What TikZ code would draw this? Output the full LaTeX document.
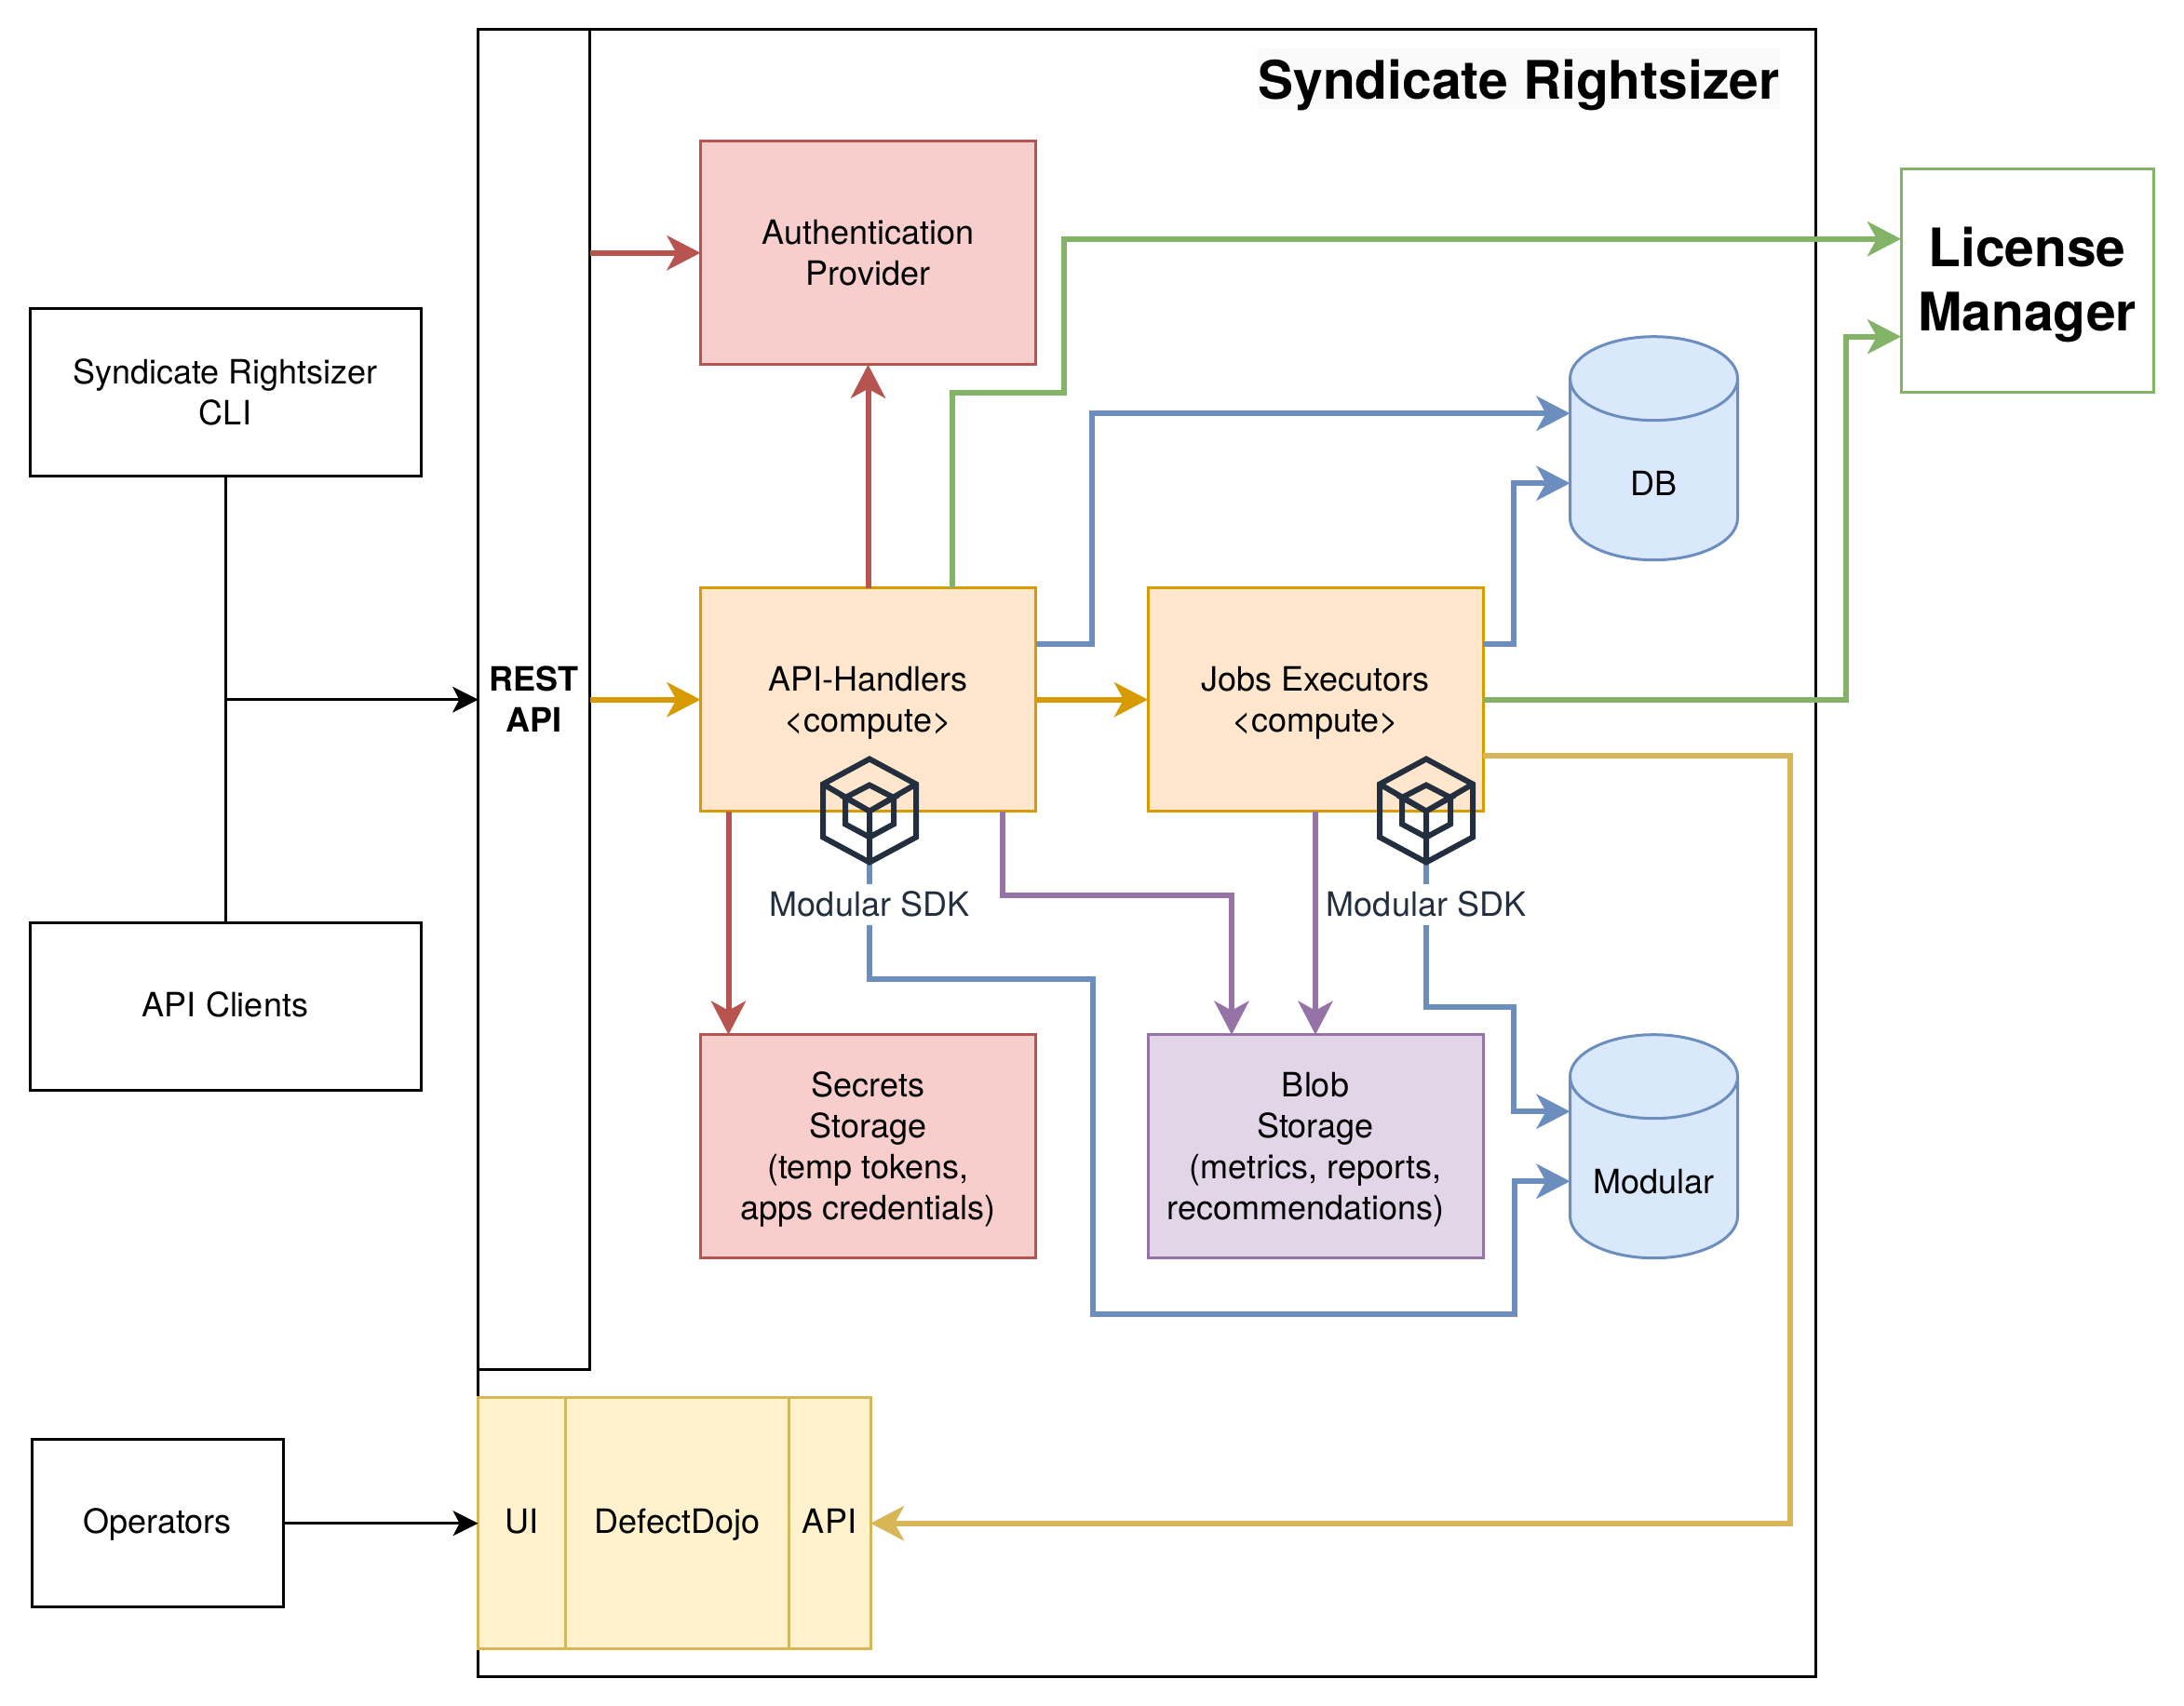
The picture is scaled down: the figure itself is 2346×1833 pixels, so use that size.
\documentclass[tikz,border=0pt]{standalone}
\usepackage{fontspec}
\setmainfont{TeX Gyre Heros}
\usetikzlibrary{arrows.meta}

\definecolor{orangefill}{HTML}{FFE6CC}
\definecolor{orangeline}{HTML}{D79B00}
\definecolor{redfill}{HTML}{F8CECC}
\definecolor{redline}{HTML}{B85450}
\definecolor{greenline}{HTML}{82B366}
\definecolor{bluefill}{HTML}{DAE8FC}
\definecolor{blueline}{HTML}{6C8EBF}
\definecolor{purplefill}{HTML}{E1D5E7}
\definecolor{purpleline}{HTML}{9673A6}
\definecolor{yellowfill}{HTML}{FFF2CC}
\definecolor{yellowline}{HTML}{D6B656}
\definecolor{sdkdark}{HTML}{232F3E}
\definecolor{titleback}{HTML}{FAFAFA}

\tikzset{
    twolines/.style = {text height = 80pt},
    fourlines/.style = {text height = 168pt},
    box/.style 2 args = {rectangle, draw, line width = 3pt, minimum width = #1pt, minimum height = #2pt},
    store/.style = {rectangle, minimum width = 180pt, minimum height = 240pt},
    link/.style = {line width = 3pt, -{Stealth[length = 27pt, width = 27pt, inset = 7pt]}},
    flow/.style = {line width = 6pt, -{Stealth[length = 36pt, width = 37pt, inset = 10pt]}},
    bold title/.style = {font = \fontsize{57}{69}\selectfont\bfseries},
    sdkicon/.pic = {
        \draw[sdkdark, line width = 6pt, line join = miter]
            (0,0) -- (50,27) -- (50,84) -- (0,111) -- (-50,84) -- (-50,27) -- cycle
            (-50,27) -- (0,56) -- (50,27)
            (0,56) -- (0,111)
            (0,28) -- (26,41.5) -- (0,56) -- (-26,41.5) -- cycle
            (-26,41.5) -- (-26,70) -- (0,84) -- (26,70) -- (26,41.5);
    },
    sdklabel/.style = {fill = white, text = sdkdark, text height = 35pt, text depth = 9pt}
}

\begin{document}
\begin{tikzpicture}
    [x = 1pt, y = -1pt, every node/.style = {inner sep = 0pt, outer sep = 0pt, align = center,
        font = \fontsize{36}{44}\selectfont, text height = 33pt, text depth = 11pt}]
    \useasboundingbox[fill = white] (0,0) rectangle (2346,1833);

    \node[box = {1437}{1770}] (rightsizer) at (1232,916.7) {};
    \node[box = {120}{1440}, twolines, font = \fontsize{36}{44}\selectfont\bfseries] (rest) at (573.5,751.7) {REST\\API};
    \node[fill = titleback, minimum width = 557pt, bold title, text height = 54.5pt, text depth = 10.5pt] (title) at (1631.5,84.2) {Syndicate Rightsizer};

    \node[box = {360}{240}, twolines, draw = redline, fill = redfill] (auth) at (932.5,271.7) {Authentication\\Provider};
    \node[box = {360}{240}, twolines, draw = orangeline, fill = orangefill] (handlers) at (932.5,751.7) {API-Handlers\\<compute>};
    \node[box = {360}{240}, twolines, draw = orangeline, fill = orangefill] (jobs) at (1413,751.7) {Jobs Executors\\<compute>};
    \node[box = {360}{240}, fourlines, draw = redline, fill = redfill] (secrets) at (932.5,1231.7) {Secrets\\Storage\\(temp tokens,\\apps credentials)};
    \node[box = {360}{240}, fourlines, draw = purpleline, fill = purplefill] (blob) at (1413,1231.7) {Blob\\Storage\\(metrics, reports,\hspace*{12pt}\\recommendations)\hspace*{21pt}};
    \node[store] (db) at (1776.5,481.7) {};
    \node[store] (modular) at (1776.5,1231.7) {};
    \node[box = {271}{240}, draw = greenline, bold title, text height = 124.3pt, text depth = 16.7pt] (license) at (2177.5,301.7) {License\\Manager};

    \foreach \store/ \caption in {db/DB,modular/Modular} {
      \draw[draw = blueline, fill = bluefill, line width = 3pt]
        ([yshift = -45pt]\store.north west) arc[start angle = 180, end angle = 0, x radius = 90pt, y radius = 45pt]
        -- ([yshift = 45pt]\store.south east) arc[start angle = 360, end angle = 180, x radius = 90pt, y radius = 45pt]
        -- cycle;
      \draw[draw = blueline, line width = 3pt]
        ([yshift = -45pt]\store.north west) arc[start angle = 180, end angle = 360, x radius = 90pt, y radius = 45pt];
      \node (\store text) at ([yshift = -39.5pt]\store.center) {\caption};
    }

    \node[box = {420}{180}, twolines] (cli) at (242,421.7) {Syndicate Rightsizer\\CLI};
    \node[box = {420}{180}] (clients) at (242,1081.7) {API Clients};
    \node[box = {270}{180}] (operators) at (169,1636.7) {Operators};

    \node[box = {94}{270}, draw = yellowline, fill = yellowfill] (dojoui) at (560.6,1636.7) {UI};
    \node[box = {240}{270}, draw = yellowline, fill = yellowfill] (dojo) at (727.5,1636.7) {DefectDojo};
    \node[box = {88}{270}, draw = yellowline, fill = yellowfill] (dojoapi) at (891,1636.7) {API};

    \node[sdklabel] (sdka) at (934,971.7) {Modular SDK};
    \node[sdklabel] (sdkb) at (1532,971.7) {Modular SDK};
    \coordinate (sdkabase) at (934,925);
    \coordinate (sdkbbase) at (1532,925);

    \draw[link] (cli.south) |- (rest.west);
    \draw[link] (clients.north) |- (rest.west);
    \draw[link] (operators) -- (dojoui);

    \foreach \from/ \to/ \shade in {rest/handlers/orangeline,handlers/jobs/orangeline,handlers/auth/redline,jobs/blob/purpleline}
      \draw[flow, \shade] (\from) -- (\to);

    \draw[flow, redline] (rest.east |- auth.west) -- (auth.west);
    \draw[flow, redline] ([xshift = -150pt]handlers.south) -- ([xshift = -150pt]secrets.north);
    \draw[flow, purpleline] ([xshift = 144pt]handlers.south) -- ++(0,90) -| ([xshift = -90pt]blob.north);
    \draw[flow, greenline] ([xshift = 90pt]handlers.north) -- ++(0,-210) -- ++(120,0) |- ([yshift = 45pt]license.west);
    \draw[flow, greenline] (jobs.east) -- ++(390,0) |- ([yshift = -60pt]license.west);
    \draw[flow, blueline] ([yshift = 60pt]handlers.east) -- ++(60,0) |- ([yshift = 37.5pt]db.west);
    \draw[flow, blueline] ([yshift = 60pt]jobs.east) -- ++(33,0) |- ([yshift = -37.5pt]db.west);
    \draw[flow, yellowline] ([yshift = -60pt]jobs.east) -- ++(330,0) |- (dojoapi.east);

    \draw[blueline, line width = 6pt] (sdkabase) -- (sdka.north);
    \draw[blueline, line width = 6pt] (sdkbbase) -- (sdkb.north);
    \draw[flow, blueline] (sdka.south) -- ++(0,58) -- ++(240,0) -- ++(0,360) -- ++(452.5,0) |- ([yshift = -37.5pt]modular.west);
    \draw[flow, blueline] (sdkb.south) -- ++(0,88) -- ++(94,0) |- ([yshift = 37.5pt]modular.west);

    \pic at (934,815.5) {sdkicon};
    \pic at (1532,815.5) {sdkicon};
\end{tikzpicture}
\end{document}
